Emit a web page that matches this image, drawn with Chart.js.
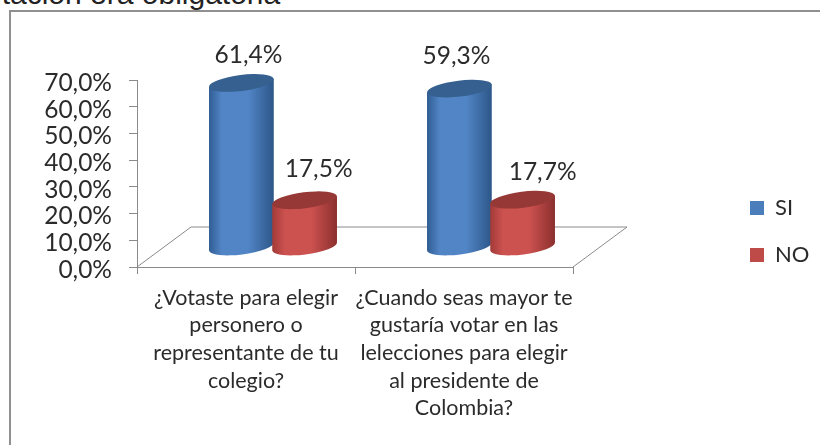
<!DOCTYPE html>
<html>
<head>
<meta charset="utf-8">
<style>
  html, body { margin: 0; padding: 0; background: #fff; overflow: hidden; }
  #pagina { position: relative; width: 820px; height: 445px; overflow: hidden; }
  #encabezado { position: absolute; left: -30px; top: -23px; margin: 0; font: 30px "Liberation Sans", sans-serif; color: #222; white-space: nowrap; }
  #marco { position: absolute; left: 9px; top: 10px; width: 830px; height: 460px; border: 2px solid #909090; }
  canvas { position: absolute; left: 0; top: 0; }
</style>
</head>
<body>
<div id="pagina">
  <p id="encabezado">votación era obligatoria</p>
  <div id="marco"></div>
  <canvas id="grafico" width="820" height="445"></canvas>
</div>
<script src="https://cdn.jsdelivr.net/npm/chart.js@4"></script>
<script>
const categorias = [
  ['¿Votaste para elegir', 'personero o', 'representante de tu', 'colegio?'],
  ['¿Cuando seas mayor te', 'gustaría votar en las', 'lelecciones para elegir', 'al presidente de', 'Colombia?']
];
const valoresSi = [61.4, 59.3];
const valoresNo = [17.5, 17.7];
const nombresSeries = ['SI', 'NO'];

const FUENTE = 'Lato, sans-serif';
const COLOR_TEXTO = '#2b2b2b';
const COLOR_EJE = '#8a8a8a';

// profundidad del piso 3D, en pixeles
const PROF_X = 54;
const PROF_Y = -40;
const GIRO = -7 * Math.PI / 180;
const RADIO_Y = 8;

// desplazamiento de cada etiqueta respecto al centro de la tapa [serie][categoria]
const ajusteEtiquetas = [
  [[7, -28], [-3, -32]],
  [[14, -31], [20, -28]]
];

const tonos = [
  { borde: '#2f5c92', medio: '#5285c6', oscuro: '#2c5688', tapa: '#35608f' },
  { borde: '#a13a37', medio: '#cc5250', oscuro: '#8b2f2d', tapa: '#963835' }
];

const formatoPct = v => v.toFixed(1).replace('.', ',') + '%';

function dibujarPiso(chart) {
  const { ctx } = chart;
  const { x, y } = chart.scales;
  const base = y.getPixelForValue(0);
  ctx.save();
  ctx.strokeStyle = COLOR_EJE;
  ctx.lineWidth = 1;
  ctx.beginPath();
  ctx.moveTo(x.left, base);
  ctx.lineTo(x.left + PROF_X, base + PROF_Y);
  ctx.lineTo(x.right + PROF_X, base + PROF_Y);
  ctx.lineTo(x.right, base);
  ctx.stroke();
  ctx.restore();
}

function dibujarCilindro(ctx, el, tono) {
  const cx = el.x + PROF_X / 2;
  const rx = el.width / 2 + 1;
  const arriba = el.y + PROF_Y / 2;
  const abajo = el.base + PROF_Y / 2;
  const dx = rx * Math.cos(GIRO);
  const dy = rx * Math.sin(GIRO);

  const grad = ctx.createLinearGradient(cx - rx, 0, cx + rx, 0);
  grad.addColorStop(0, tono.borde);
  grad.addColorStop(0.2, tono.medio);
  grad.addColorStop(0.6, tono.medio);
  grad.addColorStop(1, tono.oscuro);

  ctx.beginPath();
  ctx.moveTo(cx - dx, arriba - dy);
  ctx.lineTo(cx - dx, abajo - dy);
  ctx.ellipse(cx, abajo, rx, RADIO_Y, GIRO, Math.PI, 0, true);
  ctx.lineTo(cx + dx, arriba + dy);
  ctx.closePath();
  ctx.fillStyle = grad;
  ctx.fill();

  ctx.beginPath();
  ctx.ellipse(cx, arriba, rx, RADIO_Y, GIRO, 0, Math.PI * 2);
  ctx.fillStyle = tono.tapa;
  ctx.fill();
}

const cilindros = {
  id: 'cilindros',
  // el legend va fuera del area del grafico
  afterLayout(chart) {
    const ley = chart.legend;
    ley.left = 725;
    ley.right = 820;
    ley.top = 172;
    ley.bottom = 445;
  },
  beforeDatasetsDraw(chart) {
    const { ctx } = chart;
    dibujarPiso(chart);
    ctx.save();
    chart.data.datasets.forEach((ds, i) => {
      chart.getDatasetMeta(i).data.forEach(el => dibujarCilindro(ctx, el, tonos[i]));
    });
    ctx.font = '24.5px ' + FUENTE;
    ctx.fillStyle = COLOR_TEXTO;
    ctx.textAlign = 'center';
    ctx.textBaseline = 'middle';
    chart.data.datasets.forEach((ds, i) => {
      chart.getDatasetMeta(i).data.forEach((el, j) => {
        const aj = ajusteEtiquetas[i][j];
        ctx.fillText(formatoPct(ds.data[j]), el.x + PROF_X / 2 + aj[0], el.y + PROF_Y / 2 + aj[1]);
      });
    });
    ctx.restore();
    return false; // las barras planas no se pintan
  }
};

new Chart(document.getElementById('grafico'), {
  type: 'bar',
  data: {
    labels: categorias,
    datasets: [
      { label: nombresSeries[0], data: valoresSi, backgroundColor: '#4a7ebb', categoryPercentage: 0.58, barPercentage: 1 },
      { label: nombresSeries[1], data: valoresNo, backgroundColor: '#be4b48', categoryPercentage: 0.58, barPercentage: 1 }
    ]
  },
  options: {
    responsive: false,
    animation: false,
    layout: { padding: { left: 0, top: 80, right: 247, bottom: 0 } },
    plugins: {
      title: { display: false },
      tooltip: { enabled: false },
      legend: {
        position: 'chartArea',
        align: 'start',
        labels: {
          boxWidth: 14,
          boxHeight: 14,
          padding: 25,
          color: COLOR_TEXTO,
          font: { family: FUENTE, size: 22 }
        }
      }
    },
    scales: {
      x: {
        afterFit(scale) { scale.height = 178; },
        border: { color: COLOR_EJE },
        grid: { drawOnChartArea: false, color: COLOR_EJE, tickLength: 7 },
        ticks: {
          autoSkip: false,
          maxRotation: 0,
          minRotation: 0,
          padding: 10,
          color: COLOR_TEXTO,
          font: { family: FUENTE, size: 21.5, lineHeight: 1.285 }
        }
      },
      y: {
        min: 0,
        max: 70,
        afterFit(scale) { scale.width = 137; },
        border: { color: COLOR_EJE },
        grid: { drawOnChartArea: false, color: COLOR_EJE, tickLength: 8 },
        ticks: {
          autoSkip: false,
          stepSize: 10,
          padding: 17,
          labelOffset: 3,
          color: COLOR_TEXTO,
          font: { family: FUENTE, size: 24.5 },
          callback: v => formatoPct(v)
        }
      }
    }
  },
  plugins: [cilindros]
});
</script>
</body>
</html>
